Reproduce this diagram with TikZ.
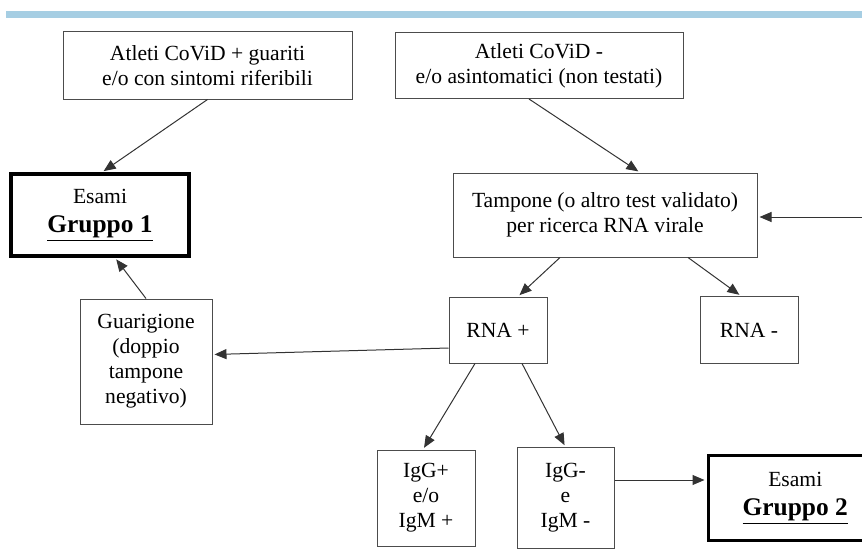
\documentclass[tikz,border=0pt]{standalone}
\usepackage{fontspec}
\setmainfont{Liberation Serif}
\usetikzlibrary{arrows.meta, positioning}
\definecolor{bandblue}{RGB}{166,206,227}
\tikzset{
    box/.style = {
      draw=black!70!white, line width=1pt, align=center, inner sep=0,
      font=\fontsize{21.6}{25}\selectfont,
    },
    exam box/.style = {box, draw=black, line width=3.5pt},
    link/.style = {line width=1pt, black!80!white,
      arrows={-Triangle[length=12pt, width=10pt]}, shorten >= 2pt},
}
\newcommand{\gruppolabel}[1]{%
  {\fontsize{25.4}{28}\selectfont\bfseries\underline{Gruppo #1}}}

\begin{document}
\begin{tikzpicture}[x=1pt, y=-1pt]
    \useasboundingbox (0, 0) rectangle (862, 551);
    \clip (0, 0) rectangle (862, 551);

    %% Top band
    \fill [bandblue] (6, 11.5) rectangle (862, 18.5);

    %% Starting groups of athletes
    \node [box, minimum width=289pt, minimum height=67pt] (atletipos) at (207.5, 65.5)
          {Atleti CoViD + guariti\\e/o con sintomi riferibili};
    \node [box, minimum width=288pt, minimum height=66pt, right=42pt of atletipos]
          (atletineg) {Atleti CoViD -\\e/o asintomatici (non testati)};

    %% Exams and swab
    \node [exam box, minimum width=178pt, minimum height=82pt] (gruppoA) at (100, 215)
          {Esami\\[4pt]\gruppolabel{1}};
    \node [box, minimum width=304pt, minimum height=84pt] (tampone) at (605, 215)
          {Tampone (o altro test validato)\\per ricerca RNA virale};

    %% Swab results
    \node [box, minimum width=98pt, minimum height=66pt] (rnapos) at (498, 330) {RNA +};
    \node [box, minimum width=98pt, minimum height=67pt, right=152pt of rnapos]
          (rnaneg) {RNA -};
    \node [box, minimum width=132pt, minimum height=125pt] (guarigione) at (146, 361.5)
          {Guarigione\\(doppio\\tampone\\negativo)};

    %% Serology
    \node [box, minimum width=98pt, minimum height=96pt] (igpos) at (426, 498)
          {IgG+\\e/o\\IgM +};
    \node [box, minimum width=97pt, minimum height=101pt, right=41pt of igpos]
          (igneg) {IgG-\\e\\IgM -};
    \node [exam box, minimum width=174pt, minimum height=85pt, right=92pt of igneg]
          (gruppoB) {Esami\\[4pt]\gruppolabel{2}};

    %% Incoming link from outside the picture
    \coordinate (ritorno) at (875, 217);

    %% Links
    \draw [link] (atletipos.south) -- ([xshift=2pt] gruppoA.north);
    \draw [link] ([xshift=-10pt] atletineg.south) -- ([xshift=35pt] tampone.north);
    \draw [link] (ritorno) -- ([yshift=-2pt] tampone.east);
    \draw [link] ([xshift=-45pt] tampone.south) -- ([xshift=20pt] rnapos.north);
    \draw [link] ([xshift=83pt] tampone.south) -- ([xshift=-8pt] rnaneg.north);
    \draw [link] ([yshift=-18pt] rnapos.west) -- ([yshift=7pt] guarigione.east);
    \draw [link] (guarigione.north) -- ([xshift=15pt] gruppoA.south);
    \draw [link] ([xshift=-23pt] rnapos.south) -- ([xshift=-3pt] igpos.north);
    \draw [link] ([xshift=24pt] rnapos.south) -- (igneg.north);
    \draw [link] ([yshift=18pt] igneg.east) -- ([yshift=18pt] gruppoB.west);
\end{tikzpicture}
\end{document}
